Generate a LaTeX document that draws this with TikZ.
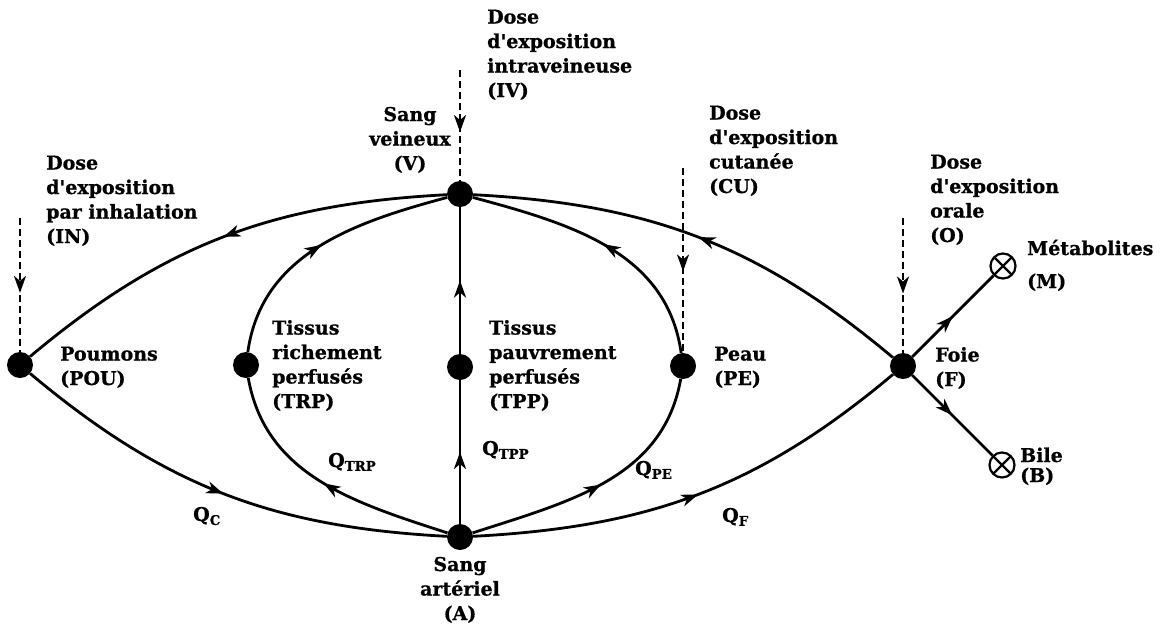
\documentclass[tikz,border=0pt]{standalone}
\usepackage{fontspec}
\setmainfont{DejaVu Serif}[BoldFeatures={FakeBold=0.8}]
\usetikzlibrary{arrows.meta,decorations.markings}

\newcommand{\ap}{\textquotesingle}

\tikzset{
  organ/.style={circle, fill=black, minimum size=26pt, inner sep=0pt},
  sink/.style={circle, draw, line width=2.2pt, fill=white, minimum size=25pt, inner sep=0pt,
    path picture={\draw[line width=2.2pt]
      (path picture bounding box.south west) -- (path picture bounding box.north east)
      (path picture bounding box.north west) -- (path picture bounding box.south east);}},
  tipmark/.style={postaction={decorate}, decoration={markings,
      mark=at position #1 with {\arrow{Stealth[length=17pt,width=12pt,inset=5pt]}}}},
  flow/.style={line width=2.8pt, tipmark=#1},
  flow/.default=0.5,
  dose/.style={line width=2.4pt, dash pattern=on 7pt off 4pt, tipmark=#1},
  dose/.default=0.56,
  lab/.style={font=\fontsize{19}{24.5}\selectfont\bfseries, align=left, inner sep=0pt},
}

\begin{document}
\begin{tikzpicture}[x=1pt, y=1pt]
\useasboundingbox (0,0) rectangle (1161,-632);

% compartments
\node[organ] (POU) at (20,-365) {};
\node[organ] (TRP) at (246,-365) {};
\node[organ] (TPP) at (460,-367) {};
\node[organ] (PE)  at (683,-366) {};
\node[organ] (V)   at (460,-194) {};
\node[organ] (A)   at (460,-537) {};
\node[organ] (F)   at (903,-366) {};
\node[sink]  (M)   at (1003,-266) {};
\node[sink]  (B)   at (1002,-465) {};

% blood flows
\draw[flow] (V) to[out=183, in=40] (POU);
\draw[flow] (POU) to[out=-40, in=177] (A);
\draw[flow] (A) to[out=3, in=220] (F);
\draw[flow] (F) to[out=140, in=-3] (V);

\draw[flow] (A) to[out=162, in=-80] (TRP);
\draw[flow] (TRP) to[out=82, in=195] (V);
\draw[flow] (A) to[out=18, in=-100] (PE);
\draw[flow] (PE) to[out=98, in=-15] (V);

\draw[flow] (A) -- (TPP);
\draw[flow] (TPP) -- (V);

\draw[flow] (F) -- (M);
\draw[flow] (F) -- (B);

% exposure routes
\coordinate (inIN) at (20,-218);
\coordinate (inIV) at (460,-70);
\coordinate (inCU) at (683,-168);
\coordinate (inO)  at (903,-218);
\draw[dose] (inIN) -- (POU);
\draw[dose] (inIV) -- (V);
\draw[dose] (inCU) -- (PE);
\draw[dose] (inO) -- (F);

% labels (anchored on the baseline of their last line)
\node[lab, anchor=base west] (lIN) at (46,-243) {Dose\\d\ap exposition\\par inhalation\\(IN)};
\node[lab, anchor=base west] (lIV) at (487,-97) {Dose\\d\ap exposition\\intraveineuse\\(IV)};
\node[lab, anchor=base west] (lCU) at (709,-193) {Dose\\d\ap exposition\\cutanée\\(CU)};
\node[lab, anchor=base west] (lO)  at (930,-242) {Dose\\d\ap exposition\\orale\\(O)};

\node[lab, anchor=base, align=center] (lV) at (410,-170) {Sang\\veineux\\(V)};
\node[lab, anchor=base, align=center] (lA) at (460,-620) {Sang\\artériel\\(A)};

\node[lab, anchor=base west] (lPOU) at (60,-385) {Poumons\\(POU)};
\node[lab, anchor=base west] (lTRP) at (272,-408) {Tissus\\richement\\perfusés\\(TRP)};
\node[lab, anchor=base west] (lTPP) at (489,-408) {Tissus\\pauvrement\\perfusés\\(TPP)};
\node[lab, anchor=base west] (lPE)  at (714,-385) {Peau\\(PE)};
\node[lab, anchor=base west] (lF)   at (935,-386) {Foie\\(F)};
\node[lab, anchor=base west] (lM)   at (1027,-288) {Métabolites\\[8.5pt](M)};
\node[lab, anchor=base west] (lB)   at (1020,-482) {Bile\\[-4.5pt](B)};

\node[lab, anchor=base west] (qC)   at (193,-521) {Q\textsubscript{C}};
\node[lab, anchor=base west] (qTRP) at (328,-467) {Q\textsubscript{TRP}};
\node[lab, anchor=base west] (qTPP) at (482,-455) {Q\textsubscript{TPP}};
\node[lab, anchor=base west] (qPE)  at (635,-475) {Q\textsubscript{PE}};
\node[lab, anchor=base west] (qF)   at (722,-522) {Q\textsubscript{F}};
\end{tikzpicture}
\end{document}
